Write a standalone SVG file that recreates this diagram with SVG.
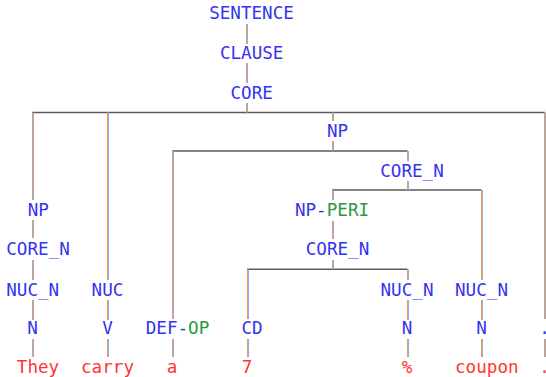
<svg xmlns="http://www.w3.org/2000/svg" width="546" height="377" viewBox="0 0 546 377">
<style>
text{font-family:"DejaVu Sans Mono","Liberation Mono",monospace;font-size:17.6px;text-anchor:middle}
.l{fill:#3434ee}
.g{fill:#2a9a3a}
.w{fill:#ff3535}
.h{stroke:#5a5a5a;stroke-width:1.6;fill:none}
.vo{stroke:#f09c4c;stroke-width:1;fill:none}
.vb{stroke:#86b0ec;stroke-width:1;fill:none}
</style>
<rect width="546" height="377" fill="#ffffff"/>
<g id="connectors">
<g class="h">
<path d="M32 112.5H545"/>
<path d="M172 151H407.5"/>
<path d="M332 190H481.5"/>
<path d="M247 269.3H407.5"/>
</g>
<g class="vb" transform="translate(1,0)">
<path d="M246.5 24V44M246.5 63V83M246.5 103V112.5"/>
<path d="M32.5 112.5V200M32.5 220V238M32.5 260V280M32.5 300V320M32.5 339V357"/>
<path d="M107.5 112.5V280M107.5 300V320M107.5 339V357"/>
<path d="M332.5 112.5V121M332.5 141V151"/>
<path d="M172.5 151V319M172.5 339V357"/>
<path d="M407.5 151V161M407.5 181V190"/>
<path d="M332.5 190V200M332.5 221V239M332.5 260V269.3"/>
<path d="M247.5 269.3V319M247.5 339V357"/>
<path d="M407.5 269.3V280M407.5 300V320M407.5 339V357"/>
<path d="M481.5 190V280M481.5 300V320M481.5 339V357"/>
<path d="M544.5 112.5V319M544.5 339V357"/>
</g>
<g class="vo">
<path d="M246.5 24V44M246.5 63V83M246.5 103V112.5"/>
<path d="M32.5 112.5V200M32.5 220V238M32.5 260V280M32.5 300V320M32.5 339V357"/>
<path d="M107.5 112.5V280M107.5 300V320M107.5 339V357"/>
<path d="M332.5 112.5V121M332.5 141V151"/>
<path d="M172.5 151V319M172.5 339V357"/>
<path d="M407.5 151V161M407.5 181V190"/>
<path d="M332.5 190V200M332.5 221V239M332.5 260V269.3"/>
<path d="M247.5 269.3V319M247.5 339V357"/>
<path d="M407.5 269.3V280M407.5 300V320M407.5 339V357"/>
<path d="M481.5 190V280M481.5 300V320M481.5 339V357"/>
<path d="M544.5 112.5V319M544.5 339V357"/>
</g>
</g>
<g id="n-sentence"><text class="l" x="251.5" y="19">SENTENCE</text></g>
<g id="n-clause"><text class="l" x="251.7" y="59.3">CLAUSE</text></g>
<g id="n-core"><text class="l" x="251.7" y="99">CORE</text></g>
<g id="n-np"><text class="l" x="337.5" y="136.7">NP</text></g>
<g id="n-core_n1"><text class="l" x="412" y="177">CORE_N</text></g>
<g id="n-np-left"><text class="l" x="38.3" y="216.3">NP</text></g>
<g id="n-np-peri"><text x="332" y="216.3"><tspan class="l">NP-</tspan><tspan class="g">PERI</tspan></text></g>
<g id="n-core_n-left"><text class="l" x="38" y="255">CORE_N</text></g>
<g id="n-core_n2"><text class="l" x="337.5" y="255">CORE_N</text></g>
<g id="n-nuc_n-left"><text class="l" x="32.7" y="295.5">NUC_N</text></g>
<g id="n-nuc"><text class="l" x="107.5" y="295.5">NUC</text></g>
<g id="n-nuc_n-pct"><text class="l" x="407" y="295.5">NUC_N</text></g>
<g id="n-nuc_n-coupon"><text class="l" x="481.5" y="295.5">NUC_N</text></g>
<g id="n-n-they"><text class="l" x="32.5" y="334.3">N</text></g>
<g id="n-v"><text class="l" x="107.5" y="334.3">V</text></g>
<g id="n-def-op"><text x="177.5" y="334.3"><tspan class="l">DEF-</tspan><tspan class="g">OP</tspan></text></g>
<g id="n-cd"><text class="l" x="252" y="334.3">CD</text></g>
<g id="n-n-pct"><text class="l" x="407" y="334.3">N</text></g>
<g id="n-n-coupon"><text class="l" x="481.5" y="334.3">N</text></g>
<g id="n-punct"><text class="l" x="544.5" y="334.3">.</text></g>
<g id="w-they"><text class="w" x="38" y="373.3">They</text></g>
<g id="w-carry"><text class="w" x="107.5" y="373.3">carry</text></g>
<g id="w-a"><text class="w" x="172" y="373.3">a</text></g>
<g id="w-7"><text class="w" x="247" y="373.3">7</text></g>
<g id="w-pct"><text class="w" x="407" y="373.3">%</text></g>
<g id="w-coupon"><text class="w" x="486.8" y="373.3">coupon</text></g>
<g id="w-punct"><text class="w" x="544.5" y="373.3">.</text></g>
</svg>
